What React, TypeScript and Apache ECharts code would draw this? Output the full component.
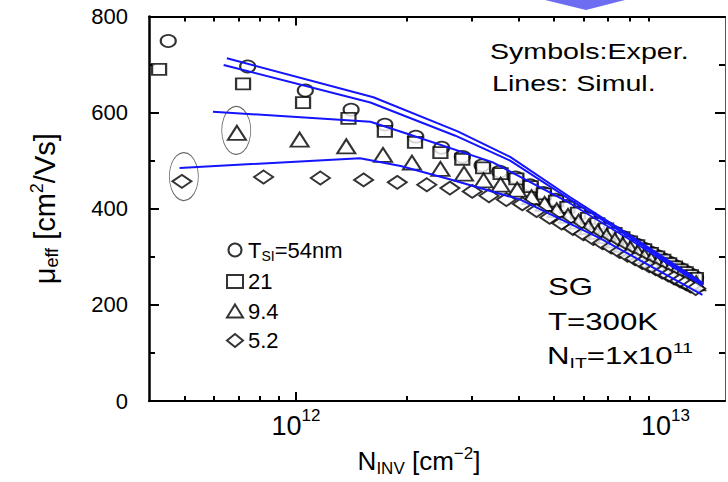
import React, { useEffect, useRef } from 'react';
import * as echarts from 'echarts';

const FONT = '"Liberation Sans", Arial, Helvetica, sans-serif';

// Experimental points: N_INV in units of 1e12 cm^-2, mobility in cm^2/Vs
const N_54 = [0.451, 0.74, 1.06, 1.41, 1.74, 2.11, 2.48, 2.82, 3.19, 3.56, 3.93, 4.30, 4.67, 5.04, 5.41, 5.78, 6.15, 6.52, 6.89, 7.26, 7.63, 8.00, 8.37, 8.74, 9.11, 9.48, 9.85, 10.22, 10.59, 10.96, 11.33, 11.70, 12.07];
const MU_54 = [749, 696, 646, 606, 575, 550, 527, 508, 490, 477, 465, 449, 433, 419, 406, 393, 382, 371, 361, 351, 342, 333, 325, 317, 309, 302, 295, 288, 281, 275, 269, 263, 257];

const N_21 = [0.426, 0.719, 1.045, 1.387, 1.74, 2.10, 2.46, 2.82, 3.21, 3.58, 3.95, 4.32, 4.69, 5.06, 5.43, 5.80, 6.17, 6.54, 6.91, 7.28, 7.65, 8.02, 8.39, 8.76, 9.13, 9.50, 9.87, 10.24, 10.61, 10.98, 11.35, 11.72, 12.09];
const MU_21 = [690, 660, 621, 588, 561, 538, 517, 503, 485, 473, 462, 446, 431, 416, 403, 391, 380, 369, 358, 349, 340, 331, 323, 315, 307, 300, 293, 286, 279, 273, 267, 261, 255];

const N_94 = [0.692, 1.023, 1.368, 1.72, 2.06, 2.46, 2.85, 3.22, 3.58, 3.97, 4.34, 4.71, 5.08, 5.45, 5.82, 6.19, 6.56, 6.93, 7.30, 7.67, 8.04, 8.41, 8.78, 9.15, 9.52, 9.89, 10.26, 10.63, 11.00, 11.37, 11.74, 12.11];
const MU_94 = [558, 544, 530, 512, 496, 483, 473, 459, 450, 440, 424, 410, 397, 385, 373, 362, 352, 343, 334, 325, 317, 309, 301, 294, 287, 280, 274, 268, 262, 256, 250, 245];

const N_52 = [0.491, 0.817, 1.164, 1.524, 1.88, 2.26, 2.61, 3.00, 3.33, 3.71, 4.10, 4.48, 4.86, 5.24, 5.62, 6.00, 6.38, 6.76, 7.14, 7.52, 7.90, 8.28, 8.66, 9.04, 9.42, 9.80, 10.18, 10.56, 10.94, 11.32, 11.70, 12.08];
const MU_52 = [457, 466, 464, 460, 455, 450, 443, 436, 427, 419, 410, 396, 382, 370, 359, 348, 338, 329, 320, 311, 303, 296, 288, 281, 275, 268, 262, 256, 250, 245, 239, 234];

// Simulation lines
const SIM_54_N = [0.65, 1.62, 2.74, 3.8, 5.5, 8.0, 12.6];
const SIM_54_MU = [713, 632, 561, 508, 425, 345, 246];
const SIM_21_N = [0.637, 1.59, 2.7, 3.8, 5.5, 8.0, 12.6];
const SIM_21_MU = [699, 621, 552, 500, 420, 341, 243];
const SIM_94_N = [0.596, 1.59, 2.0, 3.4, 5.5, 8.0, 12.6];
const SIM_94_MU = [602, 581, 556, 497, 412, 336, 240];
const SIM_52_N = [0.484, 1.49, 1.92, 2.62, 4.05, 6.68, 12.6];
const SIM_52_MU = [485, 505, 489, 461, 419, 338, 221];

// Highlighted (circled) points
const RING_N = [0.689, 0.497];
const RING_MU = [563, 467];

const SERIES_NAMES = ['T_SI=54nm', '21', '9.4', '5.2'];

const X_MIN = 4e11;
const X_MAX = 1.45e13;
const X_MAJOR_TICKS = [1e12];
const X_MINOR_TICKS = [5e11, 6e11, 7e11, 8e11, 9e11, 2e12, 3e12, 4e12, 5e12, 6e12, 7e12, 8e12, 9e12];
const X_LABELS = [1e12, 1e13];
const Y_MIN = 0;
const Y_MAX = 800;
const Y_STEP = 200;

const pairs = (n: number[], v: number[]) => n.map((x, i) => [x * 1e12, v[i]]);

const BLACK = '#000';
const BLUE = '#1414ff';

const richBase = (size: number, subSize: number, subShift: number, supShift: number) => ({
  n: { fontSize: size, fontFamily: FONT, color: BLACK, verticalAlign: 'middle' },
  sub: { fontSize: subSize, fontFamily: FONT, color: BLACK, verticalAlign: 'middle', padding: [subShift, 0, 0, 0] },
  sup: { fontSize: subSize, fontFamily: FONT, color: BLACK, verticalAlign: 'middle', padding: [0, 0, supShift, 0] },
});

const gtext = (x: number, y: number, text: string, size: number, rich?: any) => ({
  type: 'text',
  x,
  y,
  scaleX: 1.3,
  silent: true,
  z: 100,
  style: {
    text,
    fontSize: size,
    fontFamily: FONT,
    fill: BLACK,
    align: 'left',
    verticalAlign: 'middle',
    textAlign: 'left',
    textVerticalAlign: 'middle',
    rich,
  },
});

export default function App() {
  const ref = useRef<HTMLDivElement>(null);

  useEffect(() => {
    const chart = echarts.init(ref.current!, null, { renderer: 'svg' });

    const xCommon = {
      type: 'log',
      logBase: 10,
      min: X_MIN,
      max: X_MAX,
      splitLine: { show: false },
      minorTick: { show: false },
      minorSplitLine: { show: false },
    };

    const scatterStyle = { color: '#fff', borderColor: BLACK, borderWidth: 2 };

    const option: any = {
      animation: false,
      backgroundColor: '#fff',
      textStyle: { fontFamily: FONT },
      grid: { left: 149, right: 3, top: 16.5, bottom: 80.5, containLabel: false },
      legend: {
        data: SERIES_NAMES,
        orient: 'vertical',
        left: 221,
        top: 234,
        itemWidth: 16,
        itemHeight: 13,
        itemGap: 7.5,
        selectedMode: false,
        formatter: (name: string) =>
          name === 'T_SI=54nm' ? '{n|T}{sub|SI}{n|=54nm}' : `{n|${name}}`,
        textStyle: {
          fontSize: 22,
          fontFamily: FONT,
          color: BLACK,
          lineHeight: 22,
          rich: richBase(22, 14, 12, 12),
        },
      },
      xAxis: [
        {
          ...xCommon,
          position: 'bottom',
          axisLine: { show: true, lineStyle: { color: BLACK, width: 2 } },
          axisTick: { show: true, inside: true, length: 9, customValues: X_MAJOR_TICKS, lineStyle: { color: BLACK, width: 2 } },
          axisLabel: {
            show: true,
            customValues: X_LABELS,
            margin: 5,
            formatter: (v: number) => `{b|10}{s|${Math.round(Math.log10(v))}}`,
            rich: {
              b: { fontSize: 27, fontFamily: FONT, color: BLACK, verticalAlign: 'middle', padding: [6, 0, 0, 0] },
              s: { fontSize: 17, fontFamily: FONT, color: BLACK, verticalAlign: 'middle', padding: [0, 0, 14, 0] },
            },
          },
          name: '{n|N}{sub|INV}{n| [cm}{sup|−2}{n|]}',
          nameLocation: 'middle',
          nameGap: 44,
          nameTextStyle: {
            fontSize: 26,
            fontFamily: FONT,
            color: BLACK,
            padding: [0, 36, 0, 0],
            rich: richBase(26, 17, 15, 15),
          },
        },
        {
          ...xCommon,
          position: 'bottom',
          axisLine: { show: false },
          axisTick: { show: true, inside: true, length: 5, customValues: X_MINOR_TICKS, lineStyle: { color: BLACK, width: 2 } },
          axisLabel: { show: false },
        },
        {
          ...xCommon,
          position: 'top',
          axisLine: { show: true, lineStyle: { color: BLACK, width: 2 } },
          axisTick: { show: true, inside: true, length: 9, customValues: X_MAJOR_TICKS, lineStyle: { color: BLACK, width: 2 } },
          axisLabel: { show: false },
        },
        {
          ...xCommon,
          position: 'top',
          axisLine: { show: false },
          axisTick: { show: true, inside: true, length: 5, customValues: X_MINOR_TICKS, lineStyle: { color: BLACK, width: 2 } },
          axisLabel: { show: false },
        },
      ],
      yAxis: [
        {
          type: 'value',
          min: Y_MIN,
          max: Y_MAX,
          interval: Y_STEP,
          position: 'left',
          axisLine: { show: true, lineStyle: { color: BLACK, width: 2.5 } },
          axisTick: { show: true, inside: true, length: 10, lineStyle: { color: BLACK, width: 2 } },
          minorTick: { show: true, splitNumber: 2, length: 6, lineStyle: { color: BLACK, width: 2 } },
          axisLabel: { color: BLACK, fontSize: 22, fontFamily: FONT, margin: 21 },
          splitLine: { show: false },
          name: '{n|μ}{sub|eff}{n| [cm}{sup|2}{n|/Vs]}',
          nameLocation: 'middle',
          nameRotate: 90,
          nameGap: 88,
          nameTextStyle: {
            fontSize: 29,
            fontFamily: FONT,
            color: BLACK,
            rich: richBase(29, 18, 15, 15),
          },
        },
        {
          type: 'value',
          min: Y_MIN,
          max: Y_MAX,
          interval: Y_STEP,
          position: 'right',
          axisLine: { show: true, lineStyle: { color: '#555', width: 1 } },
          axisTick: { show: true, inside: true, length: 10, lineStyle: { color: BLACK, width: 2 } },
          minorTick: { show: true, splitNumber: 2, length: 6, lineStyle: { color: BLACK, width: 2 } },
          axisLabel: { show: false },
          splitLine: { show: false },
        },
      ],
      series: [
        {
          name: 'rings',
          type: 'scatter',
          symbol: 'circle',
          symbolSize: [29, 48],
          itemStyle: { color: 'rgba(0,0,0,0)', borderColor: '#444', borderWidth: 1 },
          data: pairs(RING_N, RING_MU),
          z: 1,
          silent: true,
        },
        {
          name: SERIES_NAMES[0],
          type: 'scatter',
          symbol: 'circle',
          symbolSize: [15, 12],
          itemStyle: scatterStyle,
          data: pairs(N_54, MU_54),
          z: 2,
        },
        {
          name: SERIES_NAMES[1],
          type: 'scatter',
          symbol: 'rect',
          symbolSize: [14, 11],
          itemStyle: scatterStyle,
          data: pairs(N_21, MU_21),
          z: 3,
        },
        {
          name: SERIES_NAMES[2],
          type: 'scatter',
          symbol: 'triangle',
          symbolSize: [18, 14],
          itemStyle: scatterStyle,
          data: pairs(N_94, MU_94),
          z: 4,
        },
        {
          name: SERIES_NAMES[3],
          type: 'scatter',
          symbol: 'diamond',
          symbolSize: [19, 13],
          itemStyle: scatterStyle,
          data: pairs(N_52, MU_52),
          z: 5,
        },
        ...[
          [SIM_54_N, SIM_54_MU],
          [SIM_21_N, SIM_21_MU],
          [SIM_94_N, SIM_94_MU],
          [SIM_52_N, SIM_52_MU],
        ].map(([n, v], i) => ({
          name: 'sim' + i,
          type: 'line',
          showSymbol: false,
          symbol: 'none',
          lineStyle: { color: BLUE, width: 2 },
          data: pairs(n, v),
          z: 6,
          silent: true,
        })),
      ],
      graphic: [
        {
          type: 'polygon',
          silent: true,
          shape: { points: [[545, 0], [625, 0], [586, 10]] },
          style: { fill: '#6d6df2' },
        },
        gtext(490, 51, 'Symbols:Exper.', 22),
        gtext(492, 83, 'Lines: Simul.', 22),
        gtext(548, 287, 'SG', 24),
        gtext(548, 322, 'T=300K', 24),
        gtext(547, 356, '{n|N}{sub|IT}{n|=1x10}{sup|11}', 24, richBase(24, 15, 14, 16)),
      ],
    };

    chart.setOption(option);
    return () => chart.dispose();
  }, []);

  return (
    <div
      ref={ref}
      style={{ position: 'fixed', left: 0, top: 0, width: 728, height: 482, background: '#fff' }}
    />
  );
}
